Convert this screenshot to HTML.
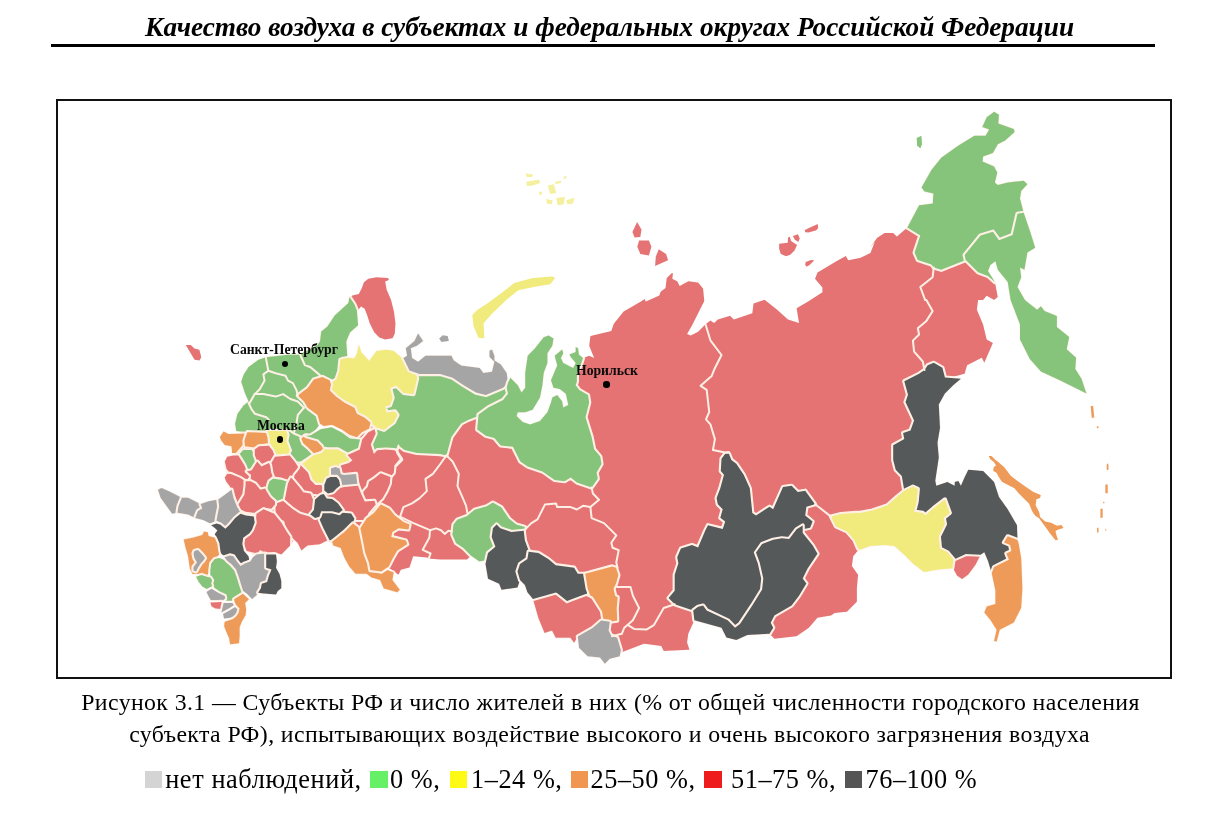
<!DOCTYPE html>
<html><head><meta charset="utf-8"><title>map</title>
<style>
html,body{margin:0;padding:0;background:#fff;overflow:hidden;}
body{width:1219px;height:817px;position:relative;overflow:hidden;font-family:"Liberation Serif",serif;color:#000;}
.title{position:absolute;left:0;top:11.6px;width:1219px;text-align:center;font-size:27.25px;font-weight:bold;font-style:italic;white-space:nowrap;letter-spacing:0px;}
.rule{position:absolute;left:51.2px;top:44.3px;width:1104px;height:2.8px;background:#000;}
.frame{position:absolute;left:55.5px;top:99px;width:1116px;height:579.8px;border:2.1px solid #111;box-sizing:border-box;}
.cap{position:absolute;left:0;width:1219px;text-align:center;font-size:23.8px;letter-spacing:0.40px;white-space:nowrap;}
.leg{position:absolute;top:765.2px;left:0;height:30px;font-size:26.3px;letter-spacing:0.55px;white-space:nowrap;}
.leg span{position:absolute;top:0;}
.leg i{position:absolute;display:block;width:17.7px;height:17.6px;top:5.6px;filter:blur(0.4px);}
.lbl{position:absolute;font-weight:bold;font-size:13.7px;white-space:nowrap;color:#0a0a0a;}
.dot{position:absolute;width:6.6px;height:6.6px;border-radius:50%;background:#000;}
svg{position:absolute;left:0;top:0;filter:blur(0.45px);}
.title,.cap,.leg,.lbl{will-change:transform;filter:blur(0.3px);}
</style></head><body>
<div class="title">Качество воздуха в субъектах и федеральных округах Российской Федерации</div>
<div class="rule"></div>
<div class="frame"></div>
<svg width="1219" height="817" viewBox="0 0 1219 817">
<defs><mask id="land" maskUnits="userSpaceOnUse" x="0" y="0" width="1219" height="817"><rect x="0" y="0" width="1219" height="817" fill="#000"/><path d="M576.9 377.8 L576.9 372.9 L580.6 365.5 L583 358.1 L589.2 355.7 L594.1 358.1 L589.2 345.8 L590.4 336 L611.3 331.1 L613.8 323.7 L623.6 311.4 L640.9 301.5 L644.6 299.1 L645.8 301.5 L659.3 295.4 L660.6 291.7 L665.5 288 L666.7 278.1 L671.6 273.2 L673 273.3 L672.3 278.8 L677.2 281.2 L679.7 286.1 L688.3 281.2 L698.1 282.4 L703.1 288.6 L704.3 300.9 L696.9 315.7 L692 325.5 L687.1 334.1 L690.7 335.4 L698.1 331.7 L705.5 324.3 L710.4 320.6 L714.1 323.1 L717.8 319.4 L730.1 315.7 L733.8 319.4 L752.3 313.2 L753.5 303.4 L764.6 299.7 L776.9 309.5 L788 319.4 L799 323.1 L796.6 308.3 L808.9 300.9 L822.4 292.3 L822.4 287.4 L815 278.8 L817.5 272.6 L835.9 261.5 L845.8 256.1 L848.3 260.3 L860.6 257.8 L870.4 252.9 L875.3 240.6 L880 235.7 L869.8 247.7 L877.2 237.8 L884.6 232.9 L893.2 232.9 L896.9 236.6 L907.3 227.5 L920.3 235.4 L914.6 252.6 L917.8 260 L931.4 264.4 L933.8 267.4 L941.2 269.8 L965.8 260 L978.1 272.3 L988 276 L994.9 282.1 L997.8 296.9 L994.1 300.1 L986.7 295.7 L983.1 300.1 L978.1 300 L976.9 309.8 L983.1 324.6 L986.7 339.4 L992.9 343.1 L984.3 362.8 L981.8 357.8 L967.1 365.2 L964.6 373.8 L946.1 378.8 L928.9 398.4 L921.5 447.7 L916.6 496.9 L896.9 521.5 L864.9 533.8 L859.3 548.9 L853.2 556.3 L851.9 566.1 L858.1 574.7 L856.9 588.3 L856.9 601.8 L847 611.7 L834.7 612.9 L831 615.4 L817.5 617.8 L808.9 627.7 L796.6 636.3 L774.4 638.7 L769.5 633.8 L752.3 620.3 L708 615.4 L693.2 610.4 L694.4 620.3 L688.3 633.8 L687.1 642.4 L689.5 649.8 L663.7 651 L661.2 646.1 L644 643.7 L621.8 652.3 L609.5 647.4 L592.6 637.8 L577.8 636.6 L574.1 642.7 L570.4 637.8 L555.7 637.8 L552 630.4 L544.6 632.9 L538.4 618.1 L533.5 600.9 L550.7 586.1 L508.9 561.5 L476.9 536.9 L470.8 556.1 L467.1 559.6 L440 559.6 L430.5 558.7 L426.8 557.5 L413.2 556.3 L409.5 567.4 L400.9 569.8 L398.5 574.7 L394.8 572.3 L371.5 555.4 L346.9 543.1 L333.3 543.1 L327.2 540.6 L319.8 544.3 L307.5 545.5 L301.4 550.4 L297.7 543.1 L294 539.4 L290 545.5 L281.4 554.4 L274.3 551.9 L270.6 557.8 L258.3 557.8 L243.5 548 L231.2 530.7 L231.2 518.4 L232.4 491.4 L227.5 484 L224.6 477.1 L226.8 472.9 L225.1 466.8 L225.1 460.6 L230 455.7 L234.9 456.9 L237.4 449.5 L243.5 429.8 L273.1 424.9 L307.5 429.8 L322.3 434.8 L359.2 429.8 L364.1 422.5 L378.9 422.5 L396.1 432.3 L450 432.3 L404.6 436.9 L429.2 424.6 L478.4 407.4 L503.1 424.6 L552.3 449.2 L594.1 461.5 L582.5 429.2Z M953.5 559.7 L965.8 554 L980.6 554.7 L975.7 564.6 L968.3 574.4 L962.1 578.9 L957.2 575.7 L953 568.3Z M637.1 222.1 L641.5 229.5 L640.3 236.9 L634.6 237.4 L632.4 232Z M639.1 240.6 L648.9 240.6 L651.4 246.8 L648.9 255.4 L640.3 254.1 L637.3 246.8Z M658.8 249.2 L666.1 254.1 L668.1 260.3 L655.1 266 L655.8 256.6Z M804.8 230 L810 227.4 L817.7 224 L818.2 228.3 L816 230.5 L808.3 232.6 L805.2 232.2Z M792.8 236 L798 234.3 L799.7 238.6 L798.3 242 L794.9 239.8Z M779.1 243.7 L787.7 242.8 L788 237.4 L789.7 236.8 L791.1 241.1 L797.1 244.9 L794.5 250.6 L790.3 254.8 L786 256.2 L780.8 254 L779.1 248.8Z M805.7 262 L810.8 260 L814.3 260.3 L810 264.8 L806.5 266.8 L805.2 264.8Z M994.1 111.8 L999 114.8 L998.3 123.4 L1013.8 129 L1014.6 132 L1005.2 140.6 L997.8 144.3 L992.9 152.9 L983.1 156.6 L982.6 161.5 L994.1 166.4 L997.3 172.6 L994.9 182.4 L997.8 184.9 L1007.7 182.4 L1023.7 180.7 L1027.4 184.2 L1021.2 191.1 L1020 198.4 L1023.7 212.7 L1017.5 213.7 L1012.6 234.9 L999 240.3 L992.9 231.7 L980.6 235.4 L964.6 255 L965.8 260 L941.2 269.8 L933.8 267.4 L931.4 264.4 L917.8 260 L914.6 252.6 L920.3 235.4 L907.3 227.5 L919.1 205.3 L932.8 203.4 L933.3 193.5 L924.5 191.6 L921.5 187.4 L931.4 170.1 L941.2 157.8 L958.4 145.5 L974.4 135.7 L985.5 135.7 L989.2 129.5 L982.3 127.1 L986.7 117.2Z M916.6 138.1 L921.5 135.7 L922 144.3 L920.3 148.5 L917.1 145.5Z M965.8 260 L964.6 255 L980.6 235.4 L992.9 231.7 L999 240.3 L1012.6 234.9 L1017.5 213.7 L1023.7 212.7 L1029.8 230.4 L1035.2 247.7 L1027.4 252.6 L1024.4 269.8 L1020 267.4 L1021.2 277.2 L1017.5 287 L1024.9 300.1 L1037.2 309.8 L1040.9 306.2 L1044.6 311.1 L1056.9 316 L1056.9 327.1 L1069.2 336.9 L1066.7 349.2 L1076.1 357.8 L1075.3 368.9 L1081.5 378.8 L1086.4 393.5 L1061.8 381.2 L1040.9 371.4 L1029.8 359.1 L1020 339.4 L1020 324.6 L1010.6 300 L1007.7 282.1 L997.8 269.8 L995.4 261.2 L990.4 264.9 L988 271 L994.9 282.1 L988 276 L978.1 272.3Z M924.5 370.1 L927.7 365.2 L933.8 362.8 L942.4 367.7 L944.9 377.5 L960.9 378.8 L953.5 384.9 L944.9 393.5 L938.8 404.6 L940 428 L937.5 442.7 L938.8 457.5 L935.1 482.1 L935.1 479.7 L936.3 485.8 L947.4 482.1 L954.7 485.8 L954.7 482.1 L958.4 480.9 L960.9 485.8 L964.6 477.2 L968.3 469.8 L983.1 471.1 L994.1 482.1 L999 496.9 L1007.7 509.2 L1017 525.2 L1017.5 540 L1007.7 536.3 L1004 542.4 L1010.1 544.9 L1011.4 551.1 L1006.4 553.5 L1008.9 559.7 L994.1 567.1 L991.7 573.2 L988 560.9 L984.3 552.3 L980.6 554.7 L965.8 554 L953.5 559.7 L947.4 552.3 L940 548.6 L938.8 536.3 L944.9 524 L943.7 517.8 L949.8 512.9 L944.9 499.4 L933.8 508 L925.2 515.4 L922.8 512.9 L914.1 511.7 L916.6 501.8 L917.8 489 L912.9 486.6 L904.3 490.8 L901.8 476 L895.7 469.8 L893.2 460 L893.2 445.2 L904.3 439 L903.1 432.9 L910.5 430.4 L914.1 420.6 L905.5 402.1 L908 394.7 L904.3 381.2 L919.1 373.8Z M860 512.9 L872.3 510.5 L887.1 505.5 L896.9 496.9 L904.3 490.8 L912.9 486.6 L917.8 489 L916.6 501.8 L914.1 511.7 L922.8 512.9 L925.2 515.4 L933.8 508 L944.9 499.4 L949.8 512.9 L943.7 517.8 L944.9 524 L938.8 536.3 L940 548.6 L947.4 552.3 L953.5 559.7 L952.3 568.3 L938.8 569.5 L924 572 L912.9 563.4 L904.3 554.7 L894.5 546.1 L884.6 544.9 L869.8 546.1 L860 549.8 L859.3 548.9 L858.1 548.6 L854.4 540 L847 531.4 L835.9 526.4 L831 516.6 L840.9 514.1 L855.6 512.9Z M1017.5 540 L1007.7 536.3 L1004 542.4 L1010.1 544.9 L1011.4 551.1 L1006.4 553.5 L1008.9 559.7 L994.1 567.1 L991.7 573.2 L995.4 590.4 L995.4 604 L986.7 606.4 L984.3 612.6 L990.4 620 L996.6 629.8 L994.1 640.9 L996.6 641.6 L999.8 629.8 L1013.8 622.4 L1021.2 607.7 L1022.4 588 L1021.2 558.4 L1018.7 543.7Z M988.7 456 L991.6 456 L995.3 459.7 L998.9 462.6 L1004.1 467 L1007 470.7 L1010.7 475.8 L1016.6 480.2 L1024.6 486.1 L1033.5 492 L1040.8 494.9 L1040.1 497.9 L1036.4 499.3 L1035.7 505.2 L1039.3 512.6 L1040.1 517 L1045.2 521.4 L1051.1 522.8 L1057 525.8 L1061.4 525.1 L1063.6 528 L1058.4 529.5 L1055.5 530.9 L1056.7 536.1 L1058 539.6 L1055.8 540.5 L1053.3 537.5 L1050.4 533.9 L1046.7 528.7 L1042.3 522.8 L1039.3 518.4 L1034.9 515.5 L1032 511.1 L1029.1 503.7 L1024.6 499.3 L1018.8 493.5 L1014.4 488.3 L1007 484.6 L1001.9 481.7 L998.9 477.3 L996.7 472.9 L993.1 470.7 L993.8 467 L996 465.5 L993.8 461.9 L990.1 458.9Z M1090.6 406.3 L1093.1 405.8 L1094.3 417.6 L1091.8 418.1Z M1096.8 426.3 L1098.5 426.3 L1098.5 428.2 L1096.8 428.2Z M1106.8 463.7 L1108.3 463.7 L1108.3 469.8 L1106.8 469.8Z M1105.6 484.6 L1107.3 484.6 L1107.3 493.2 L1105.6 493.2Z M1106.8 464.9 L1108.3 464.9 L1108.3 469.8 L1106.8 469.8Z M1105.6 484.6 L1107.6 484.6 L1107.6 493.2 L1105.6 493.2Z M1103.2 501.8 L1104.4 501.8 L1104.4 503.3 L1103.2 503.3Z M1100.4 508.7 L1102.7 508.7 L1102.7 517.8 L1100.4 517.8Z M1097 527.7 L1098.5 527.7 L1098.5 532.6 L1097 532.6Z M1105.1 529.2 L1106.3 529.2 L1106.3 530.6 L1105.1 530.6Z M725.2 453.8 L728.9 453.8 L731.4 460 L736.3 463.7 L743.7 474.7 L749.8 488.3 L752.3 512.9 L756 515.4 L769.5 506.7 L773.2 509.2 L783 487.1 L791.6 485.8 L797.8 492 L805.2 490.7 L815 504.3 L806.4 506.7 L805.2 515.4 L812.6 521.5 L810.1 527.7 L804 528.9 L802.7 525.2 L797.8 527.7 L789.2 538.7 L781.8 537.5 L773.2 538.7 L762.1 543.7 L756 551 L760.9 563.3 L763.3 578.4 L762.1 589.5 L752.3 605.5 L740 624 L735 627.7 L727.7 620.3 L706.7 610.4 L703.1 605.5 L698.1 606.7 L693.2 610.4 L674.7 604.3 L668.6 598.1 L674.7 590.7 L674.7 574.7 L678.4 563.3 L677.2 557.2 L680.9 548.6 L692 544.9 L698.1 547.4 L705.5 530.1 L708 525.2 L722.7 528.9 L725.2 521.5 L720.3 517.8 L722.7 509.2 L717.8 504.3 L716.6 498.1 L720.3 488.3 L724 474.7 L720.8 471.1 L721.5 458.8Z M693.2 610.4 L698.1 606.7 L703.1 605.5 L706.7 610.4 L727.7 620.3 L735 627.7 L740 624 L752.3 605.5 L762.1 589.5 L763.3 578.4 L759.7 562.4 L756 552.6 L762.1 544 L773.2 539.8 L781.8 538.3 L789.2 539.1 L796.6 529.2 L802.7 525.5 L802.7 532.9 L812.6 545.2 L817.5 553.8 L807.6 568.6 L802.7 578.4 L806.4 583.4 L799 595.7 L791.6 605.5 L774.4 615.4 L770.7 622.7 L773.2 627.7 L769.5 633.8 L747.4 635 L736.3 640 L726.4 637.5 L721.5 627.7 L694.4 620.3Z M349.2 297.8 L352.2 295.5 L358.8 294.1 L361.7 288.2 L363.9 282.3 L368.3 278.7 L376.4 277.2 L388.2 277.9 L388.9 280.1 L385.2 281.6 L386.7 289.7 L391.1 300 L394 311.7 L395.5 323.5 L394.8 333.7 L392.6 338.2 L385.2 339.6 L379.3 337.4 L374.2 332.3 L369.8 323.5 L366.9 314.6 L364.6 308.8 L361 306.6 L358 310.2 L355.1 310.2 L354.4 305.8 L350.7 302.2Z M185.8 344.9 L190.8 344.9 L194.5 348.6 L199.4 349.8 L201.3 357.2 L199.4 360.4 L194.5 359.7 L190.8 353.5Z M472.3 315.1 L477.2 310.1 L488.3 302.8 L503.1 291.7 L514.1 283.1 L532.6 278.1 L552.3 276.4 L555.2 278.1 L550.3 284.3 L535 286.8 L518.3 290.2 L506.3 300 L492.2 313.6 L483.6 323.2 L484.3 338.4 L478.4 337.7 L473.5 326.1Z M525.5 173.2 L532.9 174.5 L532.2 176.9 L526.8 176.9Z M526.3 181.8 L539.1 179.4 L540.3 183.1 L532.9 185.5 L526.8 186.3Z M547.7 185.5 L553.8 184.3 L556.3 192.9 L550.1 194.1Z M555.1 181.8 L561.2 180.6 L560.7 183.1 L555.8 184.3Z M563.7 176.4 L566.6 175.9 L566.1 178.4 L563.7 178.9Z M546 199.1 L552.6 200.3 L551.9 204.5 L546.9 203.5Z M556.3 197.8 L564.9 197.1 L563.7 204.5 L557.5 205.2Z M566.1 200.3 L574.7 197.8 L573 203.5 L567.4 204.5Z M539.1 191.7 L542 191.7 L542 194.6 L539.1 194.6Z M417.2 378.1 L415.9 374.4 L419.4 374.1 L440.3 374.1 L452.6 377.8 L463.7 385.2 L476 392.6 L485.8 395 L503.1 387.7 L508 382.7 L506.7 387.7 L508 393.8 L503.1 400 L488.3 407.4 L478.4 414.7 L478.4 416 L468.6 419.7 L461.2 423.4 L451.4 436.9 L446.4 455.4 L440.3 454.1 L416.9 452.9 L404.6 450 L398.5 445.5 L394.8 450 L380 451.7 L372.1 454.4 L370.4 447 L372.1 437.2 L374.1 428.6 L384 429.8 L393.8 422.4 L397.5 415 L395 411.4 L386.4 412.6 L385.2 406.4 L390.1 405.2 L392.6 397.8 L390.1 388 L396.3 385.5 L403.6 392.9 L413.5 394.1Z M342.1 357.2 L354.4 358.4 L356.9 353.5 L358.9 344.9 L361.3 352.3 L369.2 360.9 L376.6 351.1 L386.4 349.8 L393.8 351.1 L402.4 358.4 L406.1 365.8 L415.9 374.4 L417.2 378.1 L413.5 394.1 L403.6 392.9 L396.3 385.5 L390.1 388 L392.6 397.8 L390.1 405.2 L385.2 406.4 L386.4 412.6 L395 411.4 L397.5 415 L393.8 422.4 L384 429.8 L376.6 427.4 L370.4 422.4 L364.3 417.5 L356.9 413.8 L354.4 407.7 L344.6 402.7 L336 396.6 L329.8 390.4 L331 384.3 L334.7 378.1 L337.2 370.7 L338.4 358.4Z M403.4 358.1 L407.1 355.7 L405.8 348.3 L414.5 340.9 L418.1 333.5 L423.1 340.9 L416.9 345.8 L410.8 348.3 L412 358.1 L418.1 361.8 L425.5 355.7 L451.4 355.7 L453.8 360.6 L461.2 365.5 L479.7 368 L483.4 372.9 L492 371.7 L494.4 361.8 L489.5 356.9 L489.5 350.7 L492 349.5 L494.4 355.7 L494.4 360.6 L500.6 364.3 L506.7 372.9 L508 382.7 L503.1 387.7 L485.8 395 L476 392.6 L463.7 385.2 L452.6 377.8 L440.3 374.1 L419.4 374.1 L409.5 370.4Z M439.1 338.4 L442.8 335.2 L447.7 336 L448.9 340.9 L441.5 342.1Z M508 382.7 L510.4 377.8 L517.8 385.2 L521.5 392.6 L525.2 387.7 L525.2 372.9 L527.7 355.7 L535 348.3 L543.7 337.2 L548.6 335.5 L553.5 338.4 L552.3 345.8 L547.4 353.2 L547.4 363.1 L543.7 372.9 L542.4 385.2 L540 397.5 L532.6 409.8 L525.2 412.3 L517.8 412.3 L516.6 416 L522.7 422.1 L530.1 424.6 L540 420.9 L547.4 412.3 L551 402.4 L552.3 397.5 L557.2 395 L562.1 401.2 L563.3 407.4 L568.3 404.9 L565.8 393.8 L559.7 388.9 L553.5 387.7 L551 380.3 L557.2 365.5 L554.7 355.7 L562.1 349.5 L563.3 353.2 L560.9 358.1 L563.3 363.1 L573.2 368 L575.7 363.1 L570.7 356.9 L569.5 354.4 L575.7 352 L575.7 347.1 L578.1 348.3 L578.9 354.4 L583 358.1 L580.6 365.5 L576.9 372.9 L576.9 381.5 L575.7 385.2 L579.3 390.1 L588 395 L589.2 402.4 L585.5 417.2 L589.2 429.5 L585.5 417.2 L591.6 436.9 L594.1 449.2 L600.3 456.6 L601.5 464 L596.6 472.6 L597.8 478.8 L591.6 487.4 L576.9 482.4 L570.7 477.5 L564.6 481.2 L554.7 480 L542.4 471.4 L527.7 466.4 L520.3 461.5 L512.9 446.8 L500.6 445.5 L494.4 438.1 L485.8 435.7 L477.2 429.5 L478.4 416 L478.4 414.7 L488.3 407.4 L503.1 400 L508 393.8 L506.7 387.7Z M453.5 524.6 L457.2 519.7 L467.1 516 L474.5 509.8 L486.8 506.2 L492.9 502.5 L501.5 507.4 L508.9 518.5 L516.3 524.6 L524.9 527.1 L523.7 530.8 L511.4 532 L500.3 528.3 L496.6 524.6 L492.9 528.3 L491.7 536.9 L495.4 546.8 L488 552.9 L485.5 560.3 L479.4 561.5 L470.8 555.4 L463.4 548 L456 543.1 L452.3 534.5Z M492.9 528.3 L496.6 524.6 L500.3 528.3 L511.4 532 L523.7 530.8 L524.9 540.6 L528.6 550.5 L527.4 559.1 L520 564 L517.5 571.4 L520 580 L517.5 587.4 L501.5 589.8 L499.1 583.7 L488 578.8 L485.5 564 L488 552.9 L495.4 546.8 L491.7 536.9Z M528.6 551.7 L538.4 552.9 L548.3 559.1 L555.7 565.2 L574.1 567.7 L577.8 573.8 L585.2 573.8 L587.7 588.6 L586.4 596 L572.9 600.9 L566.7 602.1 L555.7 594.7 L533.5 599.7 L527.4 592.3 L524.9 584.9 L520 580 L517.5 571.4 L520 564 L527.4 559.1Z M585.2 573.8 L612.3 566.4 L616 567.7 L618.4 575.1 L616 583.7 L613.5 588.6 L615.2 596 L617.7 597.2 L616.7 608.3 L617.2 620.6 L609.8 621.8 L601.2 619.4 L600 612 L591.4 598.4 L587.7 588.6Z M533.5 600.9 L555.7 594.7 L566.7 603.4 L572.9 600.9 L586.4 596 L591.4 598.4 L600 612 L601.2 619.4 L592.6 628 L577.8 636.6 L574.1 642.7 L570.4 637.8 L555.7 637.8 L552 630.4 L544.6 632.9 L538.4 618.1Z M577.8 636.6 L592.6 628 L601.2 620.6 L609.8 621.8 L608.6 630.4 L611 635.4 L617.2 637.8 L620.9 650.1 L619.7 656.3 L609.8 658.7 L604.9 663.7 L600 657.5 L587.7 656.3 L579 647.7Z M349.5 296.9 L354.4 304.3 L356.9 310.5 L358.1 325.2 L350 332.6 L346.3 341.2 L347 352.3 L347.3 356 L341.6 357 L338.4 358.4 L337.2 370.7 L334.7 378.1 L332.3 379.4 L321.2 378.1 L317.5 374.4 L310.1 368.3 L304 365.8 L299 354.7 L317.5 344.9 L320 341.2 L321.2 331.4 L327.4 326.4 L334.7 315.4 L348.3 303.1Z M265.8 357.2 L288 354.7 L299 354.7 L304 365.8 L310.1 368.3 L317.5 374.4 L321.2 378.1 L313.8 379.4 L307.7 388 L297.8 395.4 L304 401.5 L307.7 407.7 L317.5 415 L320 423.7 L317.5 427.4 L310.1 436 L300.3 437.2 L297.8 436 L294.1 432.3 L292.9 434.7 L278.1 432.3 L268.3 433.5 L249.8 432.3 L246.1 436 L243.7 432.3 L236.3 431 L235.1 423.7 L237.5 413.8 L243.7 405.2 L248.6 401.5 L244.9 392.9 L241.2 381.8 L243.7 374.4 L248.6 367.1 L258.4 359.7Z M297.8 395.4 L307.7 388 L313.8 379.4 L322.4 376.9 L329.8 380.6 L331 384.3 L329.8 390.4 L336 396.6 L344.6 402.7 L354.4 407.7 L356.9 413.8 L364.3 417.5 L370.4 422.4 L369.2 428.6 L361.8 432.3 L356.9 437.2 L349.5 434.7 L342.1 429.8 L332.3 424.9 L323.7 426.1 L320 423.7 L317.5 415 L307.7 407.7 L304 401.5Z M275.5 503.7 L282.9 500 L290.3 504.9 L297.7 511.1 L310 514.7 L319.8 519.7 L323.5 528.3 L327.2 540.6 L319.8 544.3 L307.5 545.5 L301.4 550.4 L297.7 543.1 L294 539.4 L286.6 530.7 L284.1 520.9 L278 518.4 L275.5 511.1Z M219.9 437.1 L223.6 431.6 L228.5 434.1 L244.4 433.5 L245.6 437.1 L242.6 445.1 L235.8 453.1 L232.1 453.1 L231.5 446.3 L224.8 445.1 L221.1 440.2Z M247.4 432.2 L266.4 432.9 L269.5 437.1 L268.9 443.3 L259.1 444.5 L254.2 447.6 L245 446.3 L244.4 440.8 L245.6 437.1Z M267.7 431 L288.5 431 L289.7 434.7 L288.5 440.8 L292.1 450.6 L289.7 455.5 L275 456.7 L273.2 450.6 L270.1 443.3 L269.5 437.1Z M288.5 431 L293.4 434.4 L299.5 436.9 L301.3 438.4 L303.2 443.3 L308.1 447.6 L314.2 453.7 L311.7 454.3 L300.7 461.6 L294.6 461.6 L289.7 455.5 L292.1 450.6 L288.5 440.8 L289.7 434.7Z M301.3 438.4 L305.6 435.3 L316.6 438.4 L321.5 443.3 L325.2 449.4 L314.2 453.7 L308.1 447.6 L303.2 443.3Z M305.9 435.9 L310.8 435.3 L320.6 429.2 L331.6 427.3 L341.4 432.2 L350 438.4 L359.8 439.6 L362.2 439.6 L359.8 449.4 L347.6 454.9 L337.8 449.4 L326.7 449.4 L325.5 448.8 L323.1 444.5 L318.2 439.6Z M300.4 465.3 L313.3 455.5 L321.8 453.1 L325.5 448.8 L326.7 449.4 L337.8 449.4 L347.6 454.9 L352.4 460.4 L348.8 462.9 L341.4 465.3 L331.6 467.8 L330.4 473.9 L326.7 478.8 L323.1 484.3 L312 485.5 L309.6 478.8 L307.1 471.4Z M238.3 455.5 L243.2 450 L251.7 450 L254.8 454.9 L257.2 461.6 L251.7 470.2 L246.8 471.4 L244.4 465.3 L240.7 459.2Z M267.7 480 L272.6 476.3 L281.1 477.6 L287.2 479.4 L287.9 483.7 L286 493.5 L283.6 498.4 L275 501.4 L270.1 497.1 L266.4 491 L266.4 483.7Z M254.8 449.4 L259.1 446.3 L268.9 445.7 L272.6 450.6 L275 456.7 L270.1 465.3 L268.9 462.9 L261.5 466.5 L257.2 461.6 L254.8 454.9Z M270.1 465.3 L275 456.7 L289.7 455.5 L294.6 461.6 L299.5 469 L294.6 475.1 L290.9 477.6 L287.2 479.4 L281.1 477.6 L272.6 476.3 L271.3 472.7Z M224.8 461.6 L227.2 456.7 L233.4 455.5 L238.3 455.5 L240.7 459.2 L244.4 465.3 L246.8 471.4 L251.1 475.1 L245.6 481.2 L239.5 477.6 L230.9 473.9 L226.6 469Z M224.8 477.6 L227.2 473.9 L230.9 473.9 L239.5 477.6 L245.6 481.2 L245.6 484.9 L244.4 494.7 L238.3 504.5 L234.6 494.7 L229.7 486.1 L226 481.2Z M251.1 475.1 L246.8 471.4 L251.7 470.2 L257.2 461.6 L261.5 466.5 L268.9 462.9 L270.1 465.3 L271.3 472.7 L272.6 476.3 L267.7 480 L266.4 483.7 L265.2 488.6 L260.3 489.8 L255.4 483.7 L250.5 481.2Z M238.3 504.5 L244.4 494.7 L245.6 484.9 L245.6 481.2 L250.5 481.2 L255.4 483.7 L260.3 489.8 L265.2 488.6 L266.4 491 L270.1 497.1 L275 501.4 L275 504.5 L271.3 508.8 L262.8 507.6 L255.4 513.1 L245.6 511.8 L240.7 509.4Z M293.4 480 L294.6 475.1 L299.5 469 L300.7 465.3 L308.1 472.7 L310.5 480 L315.4 484.9 L321.5 484.9 L322.8 489.8 L320.3 494.7 L310.5 493.5 L303.2 492.2 L299.5 487.3Z M287.9 483.7 L290.9 477.6 L293.4 480 L299.5 487.3 L303.2 492.2 L310.5 493.5 L313 499.6 L314.8 507.6 L309.3 514.3 L300.7 511.8 L293.4 506.9 L284.8 499.6 L286 493.5Z M368.4 432.2 L374.5 429.2 L375.7 433.5 L370.8 444.5 L373.9 453.9 L377.3 450.2 L385.9 449.6 L394.4 450.2 L395.9 451.5 L401.2 459.4 L394.4 466.2 L393.8 472.7 L390.4 476.9 L380.6 473.3 L374.5 478.2 L369 481.8 L367.8 486.7 L361 493.5 L358.6 483.7 L357.3 473.9 L343.9 475.1 L340.8 473.9 L339.6 468.4 L341.4 465.3 L348.8 462.9 L352.4 460.4 L347.6 454.9 L359.8 449.4 L362.2 439.6Z M380.6 473.3 L390.4 476.9 L389.8 483.7 L386.7 491 L382.4 498.4 L375.7 504.5 L374.5 500.8 L364.7 501.4 L362.9 495.9 L363.5 491.6 L367.8 486.7 L369 481.8 L374.5 478.2Z M332.9 492.2 L336.5 488.6 L340.2 485.5 L343.9 484.9 L357.3 483.7 L361 493.5 L364.7 501.4 L374.5 500.8 L375.7 504.5 L368.4 513.1 L365.9 520 L354.9 520 L351.2 513.7 L342.7 510 L337.8 503.3 L332.2 499 L326.7 498.4 L323.7 494.1Z M321.3 512.7 L332.1 512 L342.7 512.7 L351.1 513.5 L354.3 518.4 L353 523.4 L344.4 532 L335.8 538.1 L329.7 540.6 L323.5 528.3 L319.8 519.7Z M331 468.4 L335.3 467.1 L339.6 468.4 L340.8 473.9 L343.9 475.1 L356.1 473.9 L357.3 483.7 L343.9 484.9 L341.4 485.5 L339 480 L336.5 476.9 L331 474.5Z M326.7 478.8 L330.4 476.9 L336.5 476.9 L339 480 L340.2 485.5 L336.5 488.6 L332.9 492.2 L328 493.5 L324.3 490.4 L324.3 484.9Z M315.1 499.6 L320.6 494.7 L323.7 494.1 L326.7 498.4 L332.2 499 L337.8 503.3 L342.7 510 L339 513.1 L332.2 511.2 L321.2 511.2 L319.4 516.7 L315.1 518 L310.2 514.3 L313.9 510Z M332.1 541.8 L344.4 532 L353 523.4 L359.2 528.3 L362.9 540.6 L365.3 552.9 L369 562.7 L370.3 570.1 L381.3 573.8 L387.5 570.1 L393.6 572.6 L392.4 580 L399.8 589.8 L397.3 592.3 L388.7 589.8 L383.8 588.6 L380.1 580 L371.5 577.5 L366.6 573.8 L355.5 573.8 L349.3 566.4 L344.4 557.8 L340.7 548 L333.3 545.5Z M366.6 518.4 L374 513 L380.8 504.4 L389.2 508.6 L394.9 515.5 L403.5 522.1 L409.6 524.6 L408.4 529.5 L398.6 528.3 L392.4 532 L391.2 536.9 L405.9 540.6 L407.2 544.3 L397.3 550.4 L392.4 559 L388.7 566.4 L381.3 571.4 L370.3 570.1 L369 562.7 L365.3 552.9 L362.9 540.6 L360.4 528.3Z M158 489.8 L161.5 488 L169.5 491.5 L180.2 496.9 L181.9 497.7 L178.4 506.6 L176.6 512.8 L172.2 513.7 L166.9 506.6 L160.6 497.7Z M181.9 497.7 L188.1 497.7 L193.5 500.4 L200.6 504 L202.3 508.4 L197.9 511.1 L195.2 518.1 L188.1 514.6 L177.5 512.8 L178.4 506.6Z M200.6 504 L208.6 501.3 L218.3 499.5 L219.2 506.6 L217.4 515.5 L216.5 520.8 L210.3 523.5 L203.2 519.9 L195.2 518.1 L197.9 511.1 L202.3 508.4Z M218.3 499.5 L224.5 495.1 L231.6 489.8 L233.4 497.7 L236.9 506.6 L240.5 512.8 L235.2 517.3 L229 524.4 L225.4 527.9 L220.1 522.6 L216.5 520.8 L217.4 515.5 L219.2 506.6Z M245.8 536.8 L252 530.6 L255.6 522.6 L256.5 513.7 L263.6 509.3 L274.2 513.7 L281.3 522.6 L286.6 531.5 L290.2 536.8 L290 545.7 L281.3 554.5 L274.2 551.9 L265.3 552.8 L260 550.1 L257.4 553.6 L246.7 551 L243.2 543.9Z M211.2 525.2 L216.5 523.5 L220.1 524.4 L225.4 528.8 L229.8 524.4 L235.2 518.1 L240.5 513.7 L245.8 515.5 L253.8 516.4 L254.7 522.6 L252 529.7 L249.4 533.2 L243.2 537.7 L242.3 543.9 L244 551 L248.5 556.3 L249.4 560.7 L244 562.5 L240.5 565.2 L236.9 560.7 L233.4 555.4 L229.8 554.5 L224.5 556.3 L220.1 552.8 L218.3 546.5 L217.4 540.3 L214.8 534.1 L217.4 530.6 L214.8 527.9Z M183.7 539.4 L192.6 537.7 L202.3 535 L204.1 531.5 L207.7 532.3 L208.6 535.9 L214.8 537.7 L217.4 543.9 L218.3 551 L219.2 554.5 L214.8 559 L211.2 563.4 L210.3 570.5 L206.8 575.8 L201.5 574 L192.6 574 L189.9 568.7 L188.1 556.3 L185.5 547.4Z M194.4 551 L197.9 550.1 L202.3 554.5 L205 558.1 L203.2 560.7 L200.6 563.4 L197.9 567.8 L196.1 571.4 L193.5 570.5 L193.5 566.9 L197 562.5 L194.4 558.1 L193.5 553.6Z M211.2 563.4 L214.8 559 L219.2 558.1 L226.3 560.7 L231.6 565.2 L236.1 571.4 L238.7 579.4 L241.4 588.2 L242.3 592.7 L236.9 596.2 L231.6 600.7 L226.3 600.7 L223.6 595.3 L218.3 590.9 L213 586.5 L211.2 582 L213 579.4 L210.3 576.7 L210.3 570.5Z M196.1 576.7 L201.5 574.9 L206.8 576.7 L210.3 577.6 L212.1 580.3 L211.2 582.9 L212.1 586.5 L206.8 589.1 L202.3 586.5 L198.8 582Z M224.5 557.2 L229.8 555.4 L233.4 556.3 L236.9 561.6 L240.5 566.1 L244.9 563.4 L250.3 561.6 L252.9 557.2 L256.5 554.5 L265.3 553.6 L266.2 567.8 L270.7 569.6 L268 575.8 L267.1 581.1 L261.8 582.9 L260 590.9 L256.5 595.3 L252 598.9 L246.7 593.6 L243.2 590.9 L241.4 585.6 L238.7 576.7 L236.1 569.6 L231.6 564.3 L227.2 560.7Z M266.2 554.5 L276 554.5 L276.9 561.6 L276 567.8 L279.5 574 L281.3 581.1 L281.3 588.2 L277.8 590.9 L276 594.4 L263.6 593.6 L258.2 592.7 L260.9 588.2 L261.8 583.8 L267.1 582 L268.9 575.8 L271.5 569.6 L266.2 567.8Z M206.5 592 L211.5 588.7 L218.6 593.1 L224.7 595.9 L225.2 598.6 L223 600.3 L210.9 600.3 L208.7 596.4Z M210.4 602.5 L221.9 601.9 L222.5 605.2 L220.8 609.1 L215.3 608.5 L211.5 606.3Z M223.6 603 L232.4 603 L234.6 605.2 L228.5 609.1 L221.4 612.4 L222.5 608Z M223 614.1 L229.1 610.7 L235.2 606.9 L239 609.1 L237.4 613 L234.1 617.4 L224.1 618.5Z M234.1 599.2 L242.9 593.7 L248.9 599.2 L245.1 603 L246.2 609.6 L245.6 615.2 L241.8 621.8 L239.6 627.3 L239.6 636.1 L239 643.2 L230.2 644.3 L229.1 638.3 L226.3 631.7 L224.1 626.2 L224.7 621.8 L233 619 L236.3 616.3 L238.5 613 L239.6 608.5 L236.3 605.2 L234.6 601.9Z" fill="#fff" stroke="#fff" stroke-width="1.2" stroke-linejoin="round"/></mask></defs>
<g mask="url(#land)">
<path d="M576.9 377.8 L576.9 372.9 L580.6 365.5 L583 358.1 L589.2 355.7 L594.1 358.1 L589.2 345.8 L590.4 336 L611.3 331.1 L613.8 323.7 L623.6 311.4 L640.9 301.5 L644.6 299.1 L645.8 301.5 L659.3 295.4 L660.6 291.7 L665.5 288 L666.7 278.1 L671.6 273.2 L673 273.3 L672.3 278.8 L677.2 281.2 L679.7 286.1 L688.3 281.2 L698.1 282.4 L703.1 288.6 L704.3 300.9 L696.9 315.7 L692 325.5 L687.1 334.1 L690.7 335.4 L698.1 331.7 L705.5 324.3 L710.4 320.6 L714.1 323.1 L717.8 319.4 L730.1 315.7 L733.8 319.4 L752.3 313.2 L753.5 303.4 L764.6 299.7 L776.9 309.5 L788 319.4 L799 323.1 L796.6 308.3 L808.9 300.9 L822.4 292.3 L822.4 287.4 L815 278.8 L817.5 272.6 L835.9 261.5 L845.8 256.1 L848.3 260.3 L860.6 257.8 L870.4 252.9 L875.3 240.6 L880 235.7 L869.8 247.7 L877.2 237.8 L884.6 232.9 L893.2 232.9 L896.9 236.6 L907.3 227.5 L920.3 235.4 L914.6 252.6 L917.8 260 L931.4 264.4 L933.8 267.4 L941.2 269.8 L965.8 260 L978.1 272.3 L988 276 L994.9 282.1 L997.8 296.9 L994.1 300.1 L986.7 295.7 L983.1 300.1 L978.1 300 L976.9 309.8 L983.1 324.6 L986.7 339.4 L992.9 343.1 L984.3 362.8 L981.8 357.8 L967.1 365.2 L964.6 373.8 L946.1 378.8 L928.9 398.4 L921.5 447.7 L916.6 496.9 L896.9 521.5 L864.9 533.8 L859.3 548.9 L853.2 556.3 L851.9 566.1 L858.1 574.7 L856.9 588.3 L856.9 601.8 L847 611.7 L834.7 612.9 L831 615.4 L817.5 617.8 L808.9 627.7 L796.6 636.3 L774.4 638.7 L769.5 633.8 L752.3 620.3 L708 615.4 L693.2 610.4 L694.4 620.3 L688.3 633.8 L687.1 642.4 L689.5 649.8 L663.7 651 L661.2 646.1 L644 643.7 L621.8 652.3 L609.5 647.4 L592.6 637.8 L577.8 636.6 L574.1 642.7 L570.4 637.8 L555.7 637.8 L552 630.4 L544.6 632.9 L538.4 618.1 L533.5 600.9 L550.7 586.1 L508.9 561.5 L476.9 536.9 L470.8 556.1 L467.1 559.6 L440 559.6 L430.5 558.7 L426.8 557.5 L413.2 556.3 L409.5 567.4 L400.9 569.8 L398.5 574.7 L394.8 572.3 L371.5 555.4 L346.9 543.1 L333.3 543.1 L327.2 540.6 L319.8 544.3 L307.5 545.5 L301.4 550.4 L297.7 543.1 L294 539.4 L290 545.5 L281.4 554.4 L274.3 551.9 L270.6 557.8 L258.3 557.8 L243.5 548 L231.2 530.7 L231.2 518.4 L232.4 491.4 L227.5 484 L224.6 477.1 L226.8 472.9 L225.1 466.8 L225.1 460.6 L230 455.7 L234.9 456.9 L237.4 449.5 L243.5 429.8 L273.1 424.9 L307.5 429.8 L322.3 434.8 L359.2 429.8 L364.1 422.5 L378.9 422.5 L396.1 432.3 L450 432.3 L404.6 436.9 L429.2 424.6 L478.4 407.4 L503.1 424.6 L552.3 449.2 L594.1 461.5 L582.5 429.2Z" fill="#E57373"/>
<path d="M953.5 559.7 L965.8 554 L980.6 554.7 L975.7 564.6 L968.3 574.4 L962.1 578.9 L957.2 575.7 L953 568.3Z" fill="#E57373" stroke="#FFF0E6" stroke-width="4.2" stroke-linejoin="round" paint-order="stroke"/>
<path d="M637.1 222.1 L641.5 229.5 L640.3 236.9 L634.6 237.4 L632.4 232Z" fill="#E57373"/>
<path d="M639.1 240.6 L648.9 240.6 L651.4 246.8 L648.9 255.4 L640.3 254.1 L637.3 246.8Z" fill="#E57373"/>
<path d="M658.8 249.2 L666.1 254.1 L668.1 260.3 L655.1 266 L655.8 256.6Z" fill="#E57373"/>
<path d="M804.8 230 L810 227.4 L817.7 224 L818.2 228.3 L816 230.5 L808.3 232.6 L805.2 232.2Z" fill="#E57373"/>
<path d="M792.8 236 L798 234.3 L799.7 238.6 L798.3 242 L794.9 239.8Z" fill="#E57373"/>
<path d="M779.1 243.7 L787.7 242.8 L788 237.4 L789.7 236.8 L791.1 241.1 L797.1 244.9 L794.5 250.6 L790.3 254.8 L786 256.2 L780.8 254 L779.1 248.8Z" fill="#E57373"/>
<path d="M805.7 262 L810.8 260 L814.3 260.3 L810 264.8 L806.5 266.8 L805.2 264.8Z" fill="#E57373"/>
<path d="M994.1 111.8 L999 114.8 L998.3 123.4 L1013.8 129 L1014.6 132 L1005.2 140.6 L997.8 144.3 L992.9 152.9 L983.1 156.6 L982.6 161.5 L994.1 166.4 L997.3 172.6 L994.9 182.4 L997.8 184.9 L1007.7 182.4 L1023.7 180.7 L1027.4 184.2 L1021.2 191.1 L1020 198.4 L1023.7 212.7 L1017.5 213.7 L1012.6 234.9 L999 240.3 L992.9 231.7 L980.6 235.4 L964.6 255 L965.8 260 L941.2 269.8 L933.8 267.4 L931.4 264.4 L917.8 260 L914.6 252.6 L920.3 235.4 L907.3 227.5 L919.1 205.3 L932.8 203.4 L933.3 193.5 L924.5 191.6 L921.5 187.4 L931.4 170.1 L941.2 157.8 L958.4 145.5 L974.4 135.7 L985.5 135.7 L989.2 129.5 L982.3 127.1 L986.7 117.2Z" fill="#85C47A" stroke="#FFF0E6" stroke-width="4.2" stroke-linejoin="round" paint-order="stroke"/>
<path d="M916.6 138.1 L921.5 135.7 L922 144.3 L920.3 148.5 L917.1 145.5Z" fill="#85C47A"/>
<path d="M965.8 260 L964.6 255 L980.6 235.4 L992.9 231.7 L999 240.3 L1012.6 234.9 L1017.5 213.7 L1023.7 212.7 L1029.8 230.4 L1035.2 247.7 L1027.4 252.6 L1024.4 269.8 L1020 267.4 L1021.2 277.2 L1017.5 287 L1024.9 300.1 L1037.2 309.8 L1040.9 306.2 L1044.6 311.1 L1056.9 316 L1056.9 327.1 L1069.2 336.9 L1066.7 349.2 L1076.1 357.8 L1075.3 368.9 L1081.5 378.8 L1086.4 393.5 L1061.8 381.2 L1040.9 371.4 L1029.8 359.1 L1020 339.4 L1020 324.6 L1010.6 300 L1007.7 282.1 L997.8 269.8 L995.4 261.2 L990.4 264.9 L988 271 L994.9 282.1 L988 276 L978.1 272.3Z" fill="#85C47A" stroke="#FFF0E6" stroke-width="4.2" stroke-linejoin="round" paint-order="stroke"/>
<path d="M924.5 370.1 L927.7 365.2 L933.8 362.8 L942.4 367.7 L944.9 377.5 L960.9 378.8 L953.5 384.9 L944.9 393.5 L938.8 404.6 L940 428 L937.5 442.7 L938.8 457.5 L935.1 482.1 L935.1 479.7 L936.3 485.8 L947.4 482.1 L954.7 485.8 L954.7 482.1 L958.4 480.9 L960.9 485.8 L964.6 477.2 L968.3 469.8 L983.1 471.1 L994.1 482.1 L999 496.9 L1007.7 509.2 L1017 525.2 L1017.5 540 L1007.7 536.3 L1004 542.4 L1010.1 544.9 L1011.4 551.1 L1006.4 553.5 L1008.9 559.7 L994.1 567.1 L991.7 573.2 L988 560.9 L984.3 552.3 L980.6 554.7 L965.8 554 L953.5 559.7 L947.4 552.3 L940 548.6 L938.8 536.3 L944.9 524 L943.7 517.8 L949.8 512.9 L944.9 499.4 L933.8 508 L925.2 515.4 L922.8 512.9 L914.1 511.7 L916.6 501.8 L917.8 489 L912.9 486.6 L904.3 490.8 L901.8 476 L895.7 469.8 L893.2 460 L893.2 445.2 L904.3 439 L903.1 432.9 L910.5 430.4 L914.1 420.6 L905.5 402.1 L908 394.7 L904.3 381.2 L919.1 373.8Z" fill="#55595A" stroke="#FFF0E6" stroke-width="4.2" stroke-linejoin="round" paint-order="stroke"/>
<path d="M860 512.9 L872.3 510.5 L887.1 505.5 L896.9 496.9 L904.3 490.8 L912.9 486.6 L917.8 489 L916.6 501.8 L914.1 511.7 L922.8 512.9 L925.2 515.4 L933.8 508 L944.9 499.4 L949.8 512.9 L943.7 517.8 L944.9 524 L938.8 536.3 L940 548.6 L947.4 552.3 L953.5 559.7 L952.3 568.3 L938.8 569.5 L924 572 L912.9 563.4 L904.3 554.7 L894.5 546.1 L884.6 544.9 L869.8 546.1 L860 549.8 L859.3 548.9 L858.1 548.6 L854.4 540 L847 531.4 L835.9 526.4 L831 516.6 L840.9 514.1 L855.6 512.9Z" fill="#F1EA7C" stroke="#FFF0E6" stroke-width="4.2" stroke-linejoin="round" paint-order="stroke"/>
<path d="M1017.5 540 L1007.7 536.3 L1004 542.4 L1010.1 544.9 L1011.4 551.1 L1006.4 553.5 L1008.9 559.7 L994.1 567.1 L991.7 573.2 L995.4 590.4 L995.4 604 L986.7 606.4 L984.3 612.6 L990.4 620 L996.6 629.8 L994.1 640.9 L996.6 641.6 L999.8 629.8 L1013.8 622.4 L1021.2 607.7 L1022.4 588 L1021.2 558.4 L1018.7 543.7Z" fill="#EE9A58" stroke="#FFF0E6" stroke-width="4.2" stroke-linejoin="round" paint-order="stroke"/>
<path d="M988.7 456 L991.6 456 L995.3 459.7 L998.9 462.6 L1004.1 467 L1007 470.7 L1010.7 475.8 L1016.6 480.2 L1024.6 486.1 L1033.5 492 L1040.8 494.9 L1040.1 497.9 L1036.4 499.3 L1035.7 505.2 L1039.3 512.6 L1040.1 517 L1045.2 521.4 L1051.1 522.8 L1057 525.8 L1061.4 525.1 L1063.6 528 L1058.4 529.5 L1055.5 530.9 L1056.7 536.1 L1058 539.6 L1055.8 540.5 L1053.3 537.5 L1050.4 533.9 L1046.7 528.7 L1042.3 522.8 L1039.3 518.4 L1034.9 515.5 L1032 511.1 L1029.1 503.7 L1024.6 499.3 L1018.8 493.5 L1014.4 488.3 L1007 484.6 L1001.9 481.7 L998.9 477.3 L996.7 472.9 L993.1 470.7 L993.8 467 L996 465.5 L993.8 461.9 L990.1 458.9Z" fill="#EE9A58"/>
<path d="M1090.6 406.3 L1093.1 405.8 L1094.3 417.6 L1091.8 418.1Z" fill="#EE9A58"/>
<path d="M1096.8 426.3 L1098.5 426.3 L1098.5 428.2 L1096.8 428.2Z" fill="#EE9A58"/>
<path d="M1106.8 463.7 L1108.3 463.7 L1108.3 469.8 L1106.8 469.8Z" fill="#EE9A58"/>
<path d="M1105.6 484.6 L1107.3 484.6 L1107.3 493.2 L1105.6 493.2Z" fill="#EE9A58"/>
<path d="M1106.8 464.9 L1108.3 464.9 L1108.3 469.8 L1106.8 469.8Z" fill="#EE9A58"/>
<path d="M1105.6 484.6 L1107.6 484.6 L1107.6 493.2 L1105.6 493.2Z" fill="#EE9A58"/>
<path d="M1103.2 501.8 L1104.4 501.8 L1104.4 503.3 L1103.2 503.3Z" fill="#EE9A58"/>
<path d="M1100.4 508.7 L1102.7 508.7 L1102.7 517.8 L1100.4 517.8Z" fill="#EE9A58"/>
<path d="M1097 527.7 L1098.5 527.7 L1098.5 532.6 L1097 532.6Z" fill="#EE9A58"/>
<path d="M1105.1 529.2 L1106.3 529.2 L1106.3 530.6 L1105.1 530.6Z" fill="#EE9A58"/>
<path d="M725.2 453.8 L728.9 453.8 L731.4 460 L736.3 463.7 L743.7 474.7 L749.8 488.3 L752.3 512.9 L756 515.4 L769.5 506.7 L773.2 509.2 L783 487.1 L791.6 485.8 L797.8 492 L805.2 490.7 L815 504.3 L806.4 506.7 L805.2 515.4 L812.6 521.5 L810.1 527.7 L804 528.9 L802.7 525.2 L797.8 527.7 L789.2 538.7 L781.8 537.5 L773.2 538.7 L762.1 543.7 L756 551 L760.9 563.3 L763.3 578.4 L762.1 589.5 L752.3 605.5 L740 624 L735 627.7 L727.7 620.3 L706.7 610.4 L703.1 605.5 L698.1 606.7 L693.2 610.4 L674.7 604.3 L668.6 598.1 L674.7 590.7 L674.7 574.7 L678.4 563.3 L677.2 557.2 L680.9 548.6 L692 544.9 L698.1 547.4 L705.5 530.1 L708 525.2 L722.7 528.9 L725.2 521.5 L720.3 517.8 L722.7 509.2 L717.8 504.3 L716.6 498.1 L720.3 488.3 L724 474.7 L720.8 471.1 L721.5 458.8Z" fill="#55595A" stroke="#FFF0E6" stroke-width="4.2" stroke-linejoin="round" paint-order="stroke"/>
<path d="M693.2 610.4 L698.1 606.7 L703.1 605.5 L706.7 610.4 L727.7 620.3 L735 627.7 L740 624 L752.3 605.5 L762.1 589.5 L763.3 578.4 L759.7 562.4 L756 552.6 L762.1 544 L773.2 539.8 L781.8 538.3 L789.2 539.1 L796.6 529.2 L802.7 525.5 L802.7 532.9 L812.6 545.2 L817.5 553.8 L807.6 568.6 L802.7 578.4 L806.4 583.4 L799 595.7 L791.6 605.5 L774.4 615.4 L770.7 622.7 L773.2 627.7 L769.5 633.8 L747.4 635 L736.3 640 L726.4 637.5 L721.5 627.7 L694.4 620.3Z" fill="#55595A" stroke="#FFF0E6" stroke-width="4.2" stroke-linejoin="round" paint-order="stroke"/>
<path d="M349.2 297.8 L352.2 295.5 L358.8 294.1 L361.7 288.2 L363.9 282.3 L368.3 278.7 L376.4 277.2 L388.2 277.9 L388.9 280.1 L385.2 281.6 L386.7 289.7 L391.1 300 L394 311.7 L395.5 323.5 L394.8 333.7 L392.6 338.2 L385.2 339.6 L379.3 337.4 L374.2 332.3 L369.8 323.5 L366.9 314.6 L364.6 308.8 L361 306.6 L358 310.2 L355.1 310.2 L354.4 305.8 L350.7 302.2Z" fill="#E57373"/>
<path d="M185.8 344.9 L190.8 344.9 L194.5 348.6 L199.4 349.8 L201.3 357.2 L199.4 360.4 L194.5 359.7 L190.8 353.5Z" fill="#E57373"/>
<path d="M472.3 315.1 L477.2 310.1 L488.3 302.8 L503.1 291.7 L514.1 283.1 L532.6 278.1 L552.3 276.4 L555.2 278.1 L550.3 284.3 L535 286.8 L518.3 290.2 L506.3 300 L492.2 313.6 L483.6 323.2 L484.3 338.4 L478.4 337.7 L473.5 326.1Z" fill="#F1EA7C"/>
<path d="M525.5 173.2 L532.9 174.5 L532.2 176.9 L526.8 176.9Z" fill="#F5F0A0"/>
<path d="M526.3 181.8 L539.1 179.4 L540.3 183.1 L532.9 185.5 L526.8 186.3Z" fill="#F5F0A0"/>
<path d="M547.7 185.5 L553.8 184.3 L556.3 192.9 L550.1 194.1Z" fill="#F5F0A0"/>
<path d="M555.1 181.8 L561.2 180.6 L560.7 183.1 L555.8 184.3Z" fill="#F5F0A0"/>
<path d="M563.7 176.4 L566.6 175.9 L566.1 178.4 L563.7 178.9Z" fill="#F5F0A0"/>
<path d="M546 199.1 L552.6 200.3 L551.9 204.5 L546.9 203.5Z" fill="#F5F0A0"/>
<path d="M556.3 197.8 L564.9 197.1 L563.7 204.5 L557.5 205.2Z" fill="#F5F0A0"/>
<path d="M566.1 200.3 L574.7 197.8 L573 203.5 L567.4 204.5Z" fill="#F5F0A0"/>
<path d="M539.1 191.7 L542 191.7 L542 194.6 L539.1 194.6Z" fill="#F5F0A0"/>
<path d="M417.2 378.1 L415.9 374.4 L419.4 374.1 L440.3 374.1 L452.6 377.8 L463.7 385.2 L476 392.6 L485.8 395 L503.1 387.7 L508 382.7 L506.7 387.7 L508 393.8 L503.1 400 L488.3 407.4 L478.4 414.7 L478.4 416 L468.6 419.7 L461.2 423.4 L451.4 436.9 L446.4 455.4 L440.3 454.1 L416.9 452.9 L404.6 450 L398.5 445.5 L394.8 450 L380 451.7 L372.1 454.4 L370.4 447 L372.1 437.2 L374.1 428.6 L384 429.8 L393.8 422.4 L397.5 415 L395 411.4 L386.4 412.6 L385.2 406.4 L390.1 405.2 L392.6 397.8 L390.1 388 L396.3 385.5 L403.6 392.9 L413.5 394.1Z" fill="#85C47A" stroke="#FFF0E6" stroke-width="4.2" stroke-linejoin="round" paint-order="stroke"/>
<path d="M342.1 357.2 L354.4 358.4 L356.9 353.5 L358.9 344.9 L361.3 352.3 L369.2 360.9 L376.6 351.1 L386.4 349.8 L393.8 351.1 L402.4 358.4 L406.1 365.8 L415.9 374.4 L417.2 378.1 L413.5 394.1 L403.6 392.9 L396.3 385.5 L390.1 388 L392.6 397.8 L390.1 405.2 L385.2 406.4 L386.4 412.6 L395 411.4 L397.5 415 L393.8 422.4 L384 429.8 L376.6 427.4 L370.4 422.4 L364.3 417.5 L356.9 413.8 L354.4 407.7 L344.6 402.7 L336 396.6 L329.8 390.4 L331 384.3 L334.7 378.1 L337.2 370.7 L338.4 358.4Z" fill="#F1EA7C" stroke="#FFF0E6" stroke-width="4.2" stroke-linejoin="round" paint-order="stroke"/>
<path d="M403.4 358.1 L407.1 355.7 L405.8 348.3 L414.5 340.9 L418.1 333.5 L423.1 340.9 L416.9 345.8 L410.8 348.3 L412 358.1 L418.1 361.8 L425.5 355.7 L451.4 355.7 L453.8 360.6 L461.2 365.5 L479.7 368 L483.4 372.9 L492 371.7 L494.4 361.8 L489.5 356.9 L489.5 350.7 L492 349.5 L494.4 355.7 L494.4 360.6 L500.6 364.3 L506.7 372.9 L508 382.7 L503.1 387.7 L485.8 395 L476 392.6 L463.7 385.2 L452.6 377.8 L440.3 374.1 L419.4 374.1 L409.5 370.4Z" fill="#A5A5A5" stroke="#FFF0E6" stroke-width="4.2" stroke-linejoin="round" paint-order="stroke"/>
<path d="M439.1 338.4 L442.8 335.2 L447.7 336 L448.9 340.9 L441.5 342.1Z" fill="#A5A5A5"/>
<path d="M508 382.7 L510.4 377.8 L517.8 385.2 L521.5 392.6 L525.2 387.7 L525.2 372.9 L527.7 355.7 L535 348.3 L543.7 337.2 L548.6 335.5 L553.5 338.4 L552.3 345.8 L547.4 353.2 L547.4 363.1 L543.7 372.9 L542.4 385.2 L540 397.5 L532.6 409.8 L525.2 412.3 L517.8 412.3 L516.6 416 L522.7 422.1 L530.1 424.6 L540 420.9 L547.4 412.3 L551 402.4 L552.3 397.5 L557.2 395 L562.1 401.2 L563.3 407.4 L568.3 404.9 L565.8 393.8 L559.7 388.9 L553.5 387.7 L551 380.3 L557.2 365.5 L554.7 355.7 L562.1 349.5 L563.3 353.2 L560.9 358.1 L563.3 363.1 L573.2 368 L575.7 363.1 L570.7 356.9 L569.5 354.4 L575.7 352 L575.7 347.1 L578.1 348.3 L578.9 354.4 L583 358.1 L580.6 365.5 L576.9 372.9 L576.9 381.5 L575.7 385.2 L579.3 390.1 L588 395 L589.2 402.4 L585.5 417.2 L589.2 429.5 L585.5 417.2 L591.6 436.9 L594.1 449.2 L600.3 456.6 L601.5 464 L596.6 472.6 L597.8 478.8 L591.6 487.4 L576.9 482.4 L570.7 477.5 L564.6 481.2 L554.7 480 L542.4 471.4 L527.7 466.4 L520.3 461.5 L512.9 446.8 L500.6 445.5 L494.4 438.1 L485.8 435.7 L477.2 429.5 L478.4 416 L478.4 414.7 L488.3 407.4 L503.1 400 L508 393.8 L506.7 387.7Z" fill="#85C47A" stroke="#FFF0E6" stroke-width="4.2" stroke-linejoin="round" paint-order="stroke"/>
<path d="M453.5 524.6 L457.2 519.7 L467.1 516 L474.5 509.8 L486.8 506.2 L492.9 502.5 L501.5 507.4 L508.9 518.5 L516.3 524.6 L524.9 527.1 L523.7 530.8 L511.4 532 L500.3 528.3 L496.6 524.6 L492.9 528.3 L491.7 536.9 L495.4 546.8 L488 552.9 L485.5 560.3 L479.4 561.5 L470.8 555.4 L463.4 548 L456 543.1 L452.3 534.5Z" fill="#85C47A" stroke="#FFF0E6" stroke-width="4.2" stroke-linejoin="round" paint-order="stroke"/>
<path d="M492.9 528.3 L496.6 524.6 L500.3 528.3 L511.4 532 L523.7 530.8 L524.9 540.6 L528.6 550.5 L527.4 559.1 L520 564 L517.5 571.4 L520 580 L517.5 587.4 L501.5 589.8 L499.1 583.7 L488 578.8 L485.5 564 L488 552.9 L495.4 546.8 L491.7 536.9Z" fill="#55595A" stroke="#FFF0E6" stroke-width="4.2" stroke-linejoin="round" paint-order="stroke"/>
<path d="M528.6 551.7 L538.4 552.9 L548.3 559.1 L555.7 565.2 L574.1 567.7 L577.8 573.8 L585.2 573.8 L587.7 588.6 L586.4 596 L572.9 600.9 L566.7 602.1 L555.7 594.7 L533.5 599.7 L527.4 592.3 L524.9 584.9 L520 580 L517.5 571.4 L520 564 L527.4 559.1Z" fill="#55595A" stroke="#FFF0E6" stroke-width="4.2" stroke-linejoin="round" paint-order="stroke"/>
<path d="M585.2 573.8 L612.3 566.4 L616 567.7 L618.4 575.1 L616 583.7 L613.5 588.6 L615.2 596 L617.7 597.2 L616.7 608.3 L617.2 620.6 L609.8 621.8 L601.2 619.4 L600 612 L591.4 598.4 L587.7 588.6Z" fill="#EE9A58" stroke="#FFF0E6" stroke-width="4.2" stroke-linejoin="round" paint-order="stroke"/>
<path d="M533.5 600.9 L555.7 594.7 L566.7 603.4 L572.9 600.9 L586.4 596 L591.4 598.4 L600 612 L601.2 619.4 L592.6 628 L577.8 636.6 L574.1 642.7 L570.4 637.8 L555.7 637.8 L552 630.4 L544.6 632.9 L538.4 618.1Z" fill="#E57373" stroke="#FFF0E6" stroke-width="4.2" stroke-linejoin="round" paint-order="stroke"/>
<path d="M577.8 636.6 L592.6 628 L601.2 620.6 L609.8 621.8 L608.6 630.4 L611 635.4 L617.2 637.8 L620.9 650.1 L619.7 656.3 L609.8 658.7 L604.9 663.7 L600 657.5 L587.7 656.3 L579 647.7Z" fill="#A5A5A5" stroke="#FFF0E6" stroke-width="4.2" stroke-linejoin="round" paint-order="stroke"/>
<path d="M349.5 296.9 L354.4 304.3 L356.9 310.5 L358.1 325.2 L350 332.6 L346.3 341.2 L347 352.3 L347.3 356 L341.6 357 L338.4 358.4 L337.2 370.7 L334.7 378.1 L332.3 379.4 L321.2 378.1 L317.5 374.4 L310.1 368.3 L304 365.8 L299 354.7 L317.5 344.9 L320 341.2 L321.2 331.4 L327.4 326.4 L334.7 315.4 L348.3 303.1Z" fill="#85C47A" stroke="#FFF0E6" stroke-width="4.2" stroke-linejoin="round" paint-order="stroke"/>
<path d="M265.8 357.2 L288 354.7 L299 354.7 L304 365.8 L310.1 368.3 L317.5 374.4 L321.2 378.1 L313.8 379.4 L307.7 388 L297.8 395.4 L304 401.5 L307.7 407.7 L317.5 415 L320 423.7 L317.5 427.4 L310.1 436 L300.3 437.2 L297.8 436 L294.1 432.3 L292.9 434.7 L278.1 432.3 L268.3 433.5 L249.8 432.3 L246.1 436 L243.7 432.3 L236.3 431 L235.1 423.7 L237.5 413.8 L243.7 405.2 L248.6 401.5 L244.9 392.9 L241.2 381.8 L243.7 374.4 L248.6 367.1 L258.4 359.7Z" fill="#85C47A" stroke="#FFF0E6" stroke-width="4.2" stroke-linejoin="round" paint-order="stroke"/>
<path d="M297.8 395.4 L307.7 388 L313.8 379.4 L322.4 376.9 L329.8 380.6 L331 384.3 L329.8 390.4 L336 396.6 L344.6 402.7 L354.4 407.7 L356.9 413.8 L364.3 417.5 L370.4 422.4 L369.2 428.6 L361.8 432.3 L356.9 437.2 L349.5 434.7 L342.1 429.8 L332.3 424.9 L323.7 426.1 L320 423.7 L317.5 415 L307.7 407.7 L304 401.5Z" fill="#EE9A58" stroke="#FFF0E6" stroke-width="4.2" stroke-linejoin="round" paint-order="stroke"/>
<path d="M275.5 503.7 L282.9 500 L290.3 504.9 L297.7 511.1 L310 514.7 L319.8 519.7 L323.5 528.3 L327.2 540.6 L319.8 544.3 L307.5 545.5 L301.4 550.4 L297.7 543.1 L294 539.4 L286.6 530.7 L284.1 520.9 L278 518.4 L275.5 511.1Z" fill="#E57373" stroke="#FFF0E6" stroke-width="4.2" stroke-linejoin="round" paint-order="stroke"/>
<path d="M219.9 437.1 L223.6 431.6 L228.5 434.1 L244.4 433.5 L245.6 437.1 L242.6 445.1 L235.8 453.1 L232.1 453.1 L231.5 446.3 L224.8 445.1 L221.1 440.2Z" fill="#EE9A58" stroke="#FFF0E6" stroke-width="4.2" stroke-linejoin="round" paint-order="stroke"/>
<path d="M247.4 432.2 L266.4 432.9 L269.5 437.1 L268.9 443.3 L259.1 444.5 L254.2 447.6 L245 446.3 L244.4 440.8 L245.6 437.1Z" fill="#EE9A58" stroke="#FFF0E6" stroke-width="4.2" stroke-linejoin="round" paint-order="stroke"/>
<path d="M267.7 431 L288.5 431 L289.7 434.7 L288.5 440.8 L292.1 450.6 L289.7 455.5 L275 456.7 L273.2 450.6 L270.1 443.3 L269.5 437.1Z" fill="#F1EA7C" stroke="#FFF0E6" stroke-width="4.2" stroke-linejoin="round" paint-order="stroke"/>
<path d="M288.5 431 L293.4 434.4 L299.5 436.9 L301.3 438.4 L303.2 443.3 L308.1 447.6 L314.2 453.7 L311.7 454.3 L300.7 461.6 L294.6 461.6 L289.7 455.5 L292.1 450.6 L288.5 440.8 L289.7 434.7Z" fill="#85C47A" stroke="#FFF0E6" stroke-width="4.2" stroke-linejoin="round" paint-order="stroke"/>
<path d="M301.3 438.4 L305.6 435.3 L316.6 438.4 L321.5 443.3 L325.2 449.4 L314.2 453.7 L308.1 447.6 L303.2 443.3Z" fill="#EE9A58" stroke="#FFF0E6" stroke-width="4.2" stroke-linejoin="round" paint-order="stroke"/>
<path d="M305.9 435.9 L310.8 435.3 L320.6 429.2 L331.6 427.3 L341.4 432.2 L350 438.4 L359.8 439.6 L362.2 439.6 L359.8 449.4 L347.6 454.9 L337.8 449.4 L326.7 449.4 L325.5 448.8 L323.1 444.5 L318.2 439.6Z" fill="#85C47A" stroke="#FFF0E6" stroke-width="4.2" stroke-linejoin="round" paint-order="stroke"/>
<path d="M300.4 465.3 L313.3 455.5 L321.8 453.1 L325.5 448.8 L326.7 449.4 L337.8 449.4 L347.6 454.9 L352.4 460.4 L348.8 462.9 L341.4 465.3 L331.6 467.8 L330.4 473.9 L326.7 478.8 L323.1 484.3 L312 485.5 L309.6 478.8 L307.1 471.4Z" fill="#F1EA7C" stroke="#FFF0E6" stroke-width="4.2" stroke-linejoin="round" paint-order="stroke"/>
<path d="M238.3 455.5 L243.2 450 L251.7 450 L254.8 454.9 L257.2 461.6 L251.7 470.2 L246.8 471.4 L244.4 465.3 L240.7 459.2Z" fill="#85C47A" stroke="#FFF0E6" stroke-width="4.2" stroke-linejoin="round" paint-order="stroke"/>
<path d="M267.7 480 L272.6 476.3 L281.1 477.6 L287.2 479.4 L287.9 483.7 L286 493.5 L283.6 498.4 L275 501.4 L270.1 497.1 L266.4 491 L266.4 483.7Z" fill="#85C47A" stroke="#FFF0E6" stroke-width="4.2" stroke-linejoin="round" paint-order="stroke"/>
<path d="M254.8 449.4 L259.1 446.3 L268.9 445.7 L272.6 450.6 L275 456.7 L270.1 465.3 L268.9 462.9 L261.5 466.5 L257.2 461.6 L254.8 454.9Z" fill="#E57373" stroke="#FFF0E6" stroke-width="4.2" stroke-linejoin="round" paint-order="stroke"/>
<path d="M270.1 465.3 L275 456.7 L289.7 455.5 L294.6 461.6 L299.5 469 L294.6 475.1 L290.9 477.6 L287.2 479.4 L281.1 477.6 L272.6 476.3 L271.3 472.7Z" fill="#E57373" stroke="#FFF0E6" stroke-width="4.2" stroke-linejoin="round" paint-order="stroke"/>
<path d="M224.8 461.6 L227.2 456.7 L233.4 455.5 L238.3 455.5 L240.7 459.2 L244.4 465.3 L246.8 471.4 L251.1 475.1 L245.6 481.2 L239.5 477.6 L230.9 473.9 L226.6 469Z" fill="#E57373" stroke="#FFF0E6" stroke-width="4.2" stroke-linejoin="round" paint-order="stroke"/>
<path d="M224.8 477.6 L227.2 473.9 L230.9 473.9 L239.5 477.6 L245.6 481.2 L245.6 484.9 L244.4 494.7 L238.3 504.5 L234.6 494.7 L229.7 486.1 L226 481.2Z" fill="#E57373" stroke="#FFF0E6" stroke-width="4.2" stroke-linejoin="round" paint-order="stroke"/>
<path d="M251.1 475.1 L246.8 471.4 L251.7 470.2 L257.2 461.6 L261.5 466.5 L268.9 462.9 L270.1 465.3 L271.3 472.7 L272.6 476.3 L267.7 480 L266.4 483.7 L265.2 488.6 L260.3 489.8 L255.4 483.7 L250.5 481.2Z" fill="#E57373" stroke="#FFF0E6" stroke-width="4.2" stroke-linejoin="round" paint-order="stroke"/>
<path d="M238.3 504.5 L244.4 494.7 L245.6 484.9 L245.6 481.2 L250.5 481.2 L255.4 483.7 L260.3 489.8 L265.2 488.6 L266.4 491 L270.1 497.1 L275 501.4 L275 504.5 L271.3 508.8 L262.8 507.6 L255.4 513.1 L245.6 511.8 L240.7 509.4Z" fill="#E57373" stroke="#FFF0E6" stroke-width="4.2" stroke-linejoin="round" paint-order="stroke"/>
<path d="M293.4 480 L294.6 475.1 L299.5 469 L300.7 465.3 L308.1 472.7 L310.5 480 L315.4 484.9 L321.5 484.9 L322.8 489.8 L320.3 494.7 L310.5 493.5 L303.2 492.2 L299.5 487.3Z" fill="#E57373" stroke="#FFF0E6" stroke-width="4.2" stroke-linejoin="round" paint-order="stroke"/>
<path d="M287.9 483.7 L290.9 477.6 L293.4 480 L299.5 487.3 L303.2 492.2 L310.5 493.5 L313 499.6 L314.8 507.6 L309.3 514.3 L300.7 511.8 L293.4 506.9 L284.8 499.6 L286 493.5Z" fill="#E57373" stroke="#FFF0E6" stroke-width="4.2" stroke-linejoin="round" paint-order="stroke"/>
<path d="M368.4 432.2 L374.5 429.2 L375.7 433.5 L370.8 444.5 L373.9 453.9 L377.3 450.2 L385.9 449.6 L394.4 450.2 L395.9 451.5 L401.2 459.4 L394.4 466.2 L393.8 472.7 L390.4 476.9 L380.6 473.3 L374.5 478.2 L369 481.8 L367.8 486.7 L361 493.5 L358.6 483.7 L357.3 473.9 L343.9 475.1 L340.8 473.9 L339.6 468.4 L341.4 465.3 L348.8 462.9 L352.4 460.4 L347.6 454.9 L359.8 449.4 L362.2 439.6Z" fill="#E57373" stroke="#FFF0E6" stroke-width="4.2" stroke-linejoin="round" paint-order="stroke"/>
<path d="M380.6 473.3 L390.4 476.9 L389.8 483.7 L386.7 491 L382.4 498.4 L375.7 504.5 L374.5 500.8 L364.7 501.4 L362.9 495.9 L363.5 491.6 L367.8 486.7 L369 481.8 L374.5 478.2Z" fill="#E57373" stroke="#FFF0E6" stroke-width="4.2" stroke-linejoin="round" paint-order="stroke"/>
<path d="M332.9 492.2 L336.5 488.6 L340.2 485.5 L343.9 484.9 L357.3 483.7 L361 493.5 L364.7 501.4 L374.5 500.8 L375.7 504.5 L368.4 513.1 L365.9 520 L354.9 520 L351.2 513.7 L342.7 510 L337.8 503.3 L332.2 499 L326.7 498.4 L323.7 494.1Z" fill="#E57373" stroke="#FFF0E6" stroke-width="4.2" stroke-linejoin="round" paint-order="stroke"/>
<path d="M321.3 512.7 L332.1 512 L342.7 512.7 L351.1 513.5 L354.3 518.4 L353 523.4 L344.4 532 L335.8 538.1 L329.7 540.6 L323.5 528.3 L319.8 519.7Z" fill="#55595A" stroke="#FFF0E6" stroke-width="4.2" stroke-linejoin="round" paint-order="stroke"/>
<path d="M331 468.4 L335.3 467.1 L339.6 468.4 L340.8 473.9 L343.9 475.1 L356.1 473.9 L357.3 483.7 L343.9 484.9 L341.4 485.5 L339 480 L336.5 476.9 L331 474.5Z" fill="#A5A5A5" stroke="#FFF0E6" stroke-width="4.2" stroke-linejoin="round" paint-order="stroke"/>
<path d="M326.7 478.8 L330.4 476.9 L336.5 476.9 L339 480 L340.2 485.5 L336.5 488.6 L332.9 492.2 L328 493.5 L324.3 490.4 L324.3 484.9Z" fill="#55595A" stroke="#FFF0E6" stroke-width="4.2" stroke-linejoin="round" paint-order="stroke"/>
<path d="M315.1 499.6 L320.6 494.7 L323.7 494.1 L326.7 498.4 L332.2 499 L337.8 503.3 L342.7 510 L339 513.1 L332.2 511.2 L321.2 511.2 L319.4 516.7 L315.1 518 L310.2 514.3 L313.9 510Z" fill="#55595A" stroke="#FFF0E6" stroke-width="4.2" stroke-linejoin="round" paint-order="stroke"/>
<path d="M332.1 541.8 L344.4 532 L353 523.4 L359.2 528.3 L362.9 540.6 L365.3 552.9 L369 562.7 L370.3 570.1 L381.3 573.8 L387.5 570.1 L393.6 572.6 L392.4 580 L399.8 589.8 L397.3 592.3 L388.7 589.8 L383.8 588.6 L380.1 580 L371.5 577.5 L366.6 573.8 L355.5 573.8 L349.3 566.4 L344.4 557.8 L340.7 548 L333.3 545.5Z" fill="#EE9A58" stroke="#FFF0E6" stroke-width="4.2" stroke-linejoin="round" paint-order="stroke"/>
<path d="M366.6 518.4 L374 513 L380.8 504.4 L389.2 508.6 L394.9 515.5 L403.5 522.1 L409.6 524.6 L408.4 529.5 L398.6 528.3 L392.4 532 L391.2 536.9 L405.9 540.6 L407.2 544.3 L397.3 550.4 L392.4 559 L388.7 566.4 L381.3 571.4 L370.3 570.1 L369 562.7 L365.3 552.9 L362.9 540.6 L360.4 528.3Z" fill="#EE9A58" stroke="#FFF0E6" stroke-width="4.2" stroke-linejoin="round" paint-order="stroke"/>
<path d="M158 489.8 L161.5 488 L169.5 491.5 L180.2 496.9 L181.9 497.7 L178.4 506.6 L176.6 512.8 L172.2 513.7 L166.9 506.6 L160.6 497.7Z" fill="#A5A5A5" stroke="#FFF0E6" stroke-width="4.2" stroke-linejoin="round" paint-order="stroke"/>
<path d="M181.9 497.7 L188.1 497.7 L193.5 500.4 L200.6 504 L202.3 508.4 L197.9 511.1 L195.2 518.1 L188.1 514.6 L177.5 512.8 L178.4 506.6Z" fill="#A5A5A5" stroke="#FFF0E6" stroke-width="4.2" stroke-linejoin="round" paint-order="stroke"/>
<path d="M200.6 504 L208.6 501.3 L218.3 499.5 L219.2 506.6 L217.4 515.5 L216.5 520.8 L210.3 523.5 L203.2 519.9 L195.2 518.1 L197.9 511.1 L202.3 508.4Z" fill="#A5A5A5" stroke="#FFF0E6" stroke-width="4.2" stroke-linejoin="round" paint-order="stroke"/>
<path d="M218.3 499.5 L224.5 495.1 L231.6 489.8 L233.4 497.7 L236.9 506.6 L240.5 512.8 L235.2 517.3 L229 524.4 L225.4 527.9 L220.1 522.6 L216.5 520.8 L217.4 515.5 L219.2 506.6Z" fill="#A5A5A5" stroke="#FFF0E6" stroke-width="4.2" stroke-linejoin="round" paint-order="stroke"/>
<path d="M245.8 536.8 L252 530.6 L255.6 522.6 L256.5 513.7 L263.6 509.3 L274.2 513.7 L281.3 522.6 L286.6 531.5 L290.2 536.8 L290 545.7 L281.3 554.5 L274.2 551.9 L265.3 552.8 L260 550.1 L257.4 553.6 L246.7 551 L243.2 543.9Z" fill="#E57373" stroke="#FFF0E6" stroke-width="4.2" stroke-linejoin="round" paint-order="stroke"/>
<path d="M211.2 525.2 L216.5 523.5 L220.1 524.4 L225.4 528.8 L229.8 524.4 L235.2 518.1 L240.5 513.7 L245.8 515.5 L253.8 516.4 L254.7 522.6 L252 529.7 L249.4 533.2 L243.2 537.7 L242.3 543.9 L244 551 L248.5 556.3 L249.4 560.7 L244 562.5 L240.5 565.2 L236.9 560.7 L233.4 555.4 L229.8 554.5 L224.5 556.3 L220.1 552.8 L218.3 546.5 L217.4 540.3 L214.8 534.1 L217.4 530.6 L214.8 527.9Z" fill="#55595A" stroke="#FFF0E6" stroke-width="4.2" stroke-linejoin="round" paint-order="stroke"/>
<path d="M183.7 539.4 L192.6 537.7 L202.3 535 L204.1 531.5 L207.7 532.3 L208.6 535.9 L214.8 537.7 L217.4 543.9 L218.3 551 L219.2 554.5 L214.8 559 L211.2 563.4 L210.3 570.5 L206.8 575.8 L201.5 574 L192.6 574 L189.9 568.7 L188.1 556.3 L185.5 547.4Z" fill="#EE9A58" stroke="#FFF0E6" stroke-width="4.2" stroke-linejoin="round" paint-order="stroke"/>
<path d="M194.4 551 L197.9 550.1 L202.3 554.5 L205 558.1 L203.2 560.7 L200.6 563.4 L197.9 567.8 L196.1 571.4 L193.5 570.5 L193.5 566.9 L197 562.5 L194.4 558.1 L193.5 553.6Z" fill="#A5A5A5" stroke="#FFF0E6" stroke-width="4.2" stroke-linejoin="round" paint-order="stroke"/>
<path d="M211.2 563.4 L214.8 559 L219.2 558.1 L226.3 560.7 L231.6 565.2 L236.1 571.4 L238.7 579.4 L241.4 588.2 L242.3 592.7 L236.9 596.2 L231.6 600.7 L226.3 600.7 L223.6 595.3 L218.3 590.9 L213 586.5 L211.2 582 L213 579.4 L210.3 576.7 L210.3 570.5Z" fill="#85C47A" stroke="#FFF0E6" stroke-width="4.2" stroke-linejoin="round" paint-order="stroke"/>
<path d="M196.1 576.7 L201.5 574.9 L206.8 576.7 L210.3 577.6 L212.1 580.3 L211.2 582.9 L212.1 586.5 L206.8 589.1 L202.3 586.5 L198.8 582Z" fill="#85C47A" stroke="#FFF0E6" stroke-width="4.2" stroke-linejoin="round" paint-order="stroke"/>
<path d="M224.5 557.2 L229.8 555.4 L233.4 556.3 L236.9 561.6 L240.5 566.1 L244.9 563.4 L250.3 561.6 L252.9 557.2 L256.5 554.5 L265.3 553.6 L266.2 567.8 L270.7 569.6 L268 575.8 L267.1 581.1 L261.8 582.9 L260 590.9 L256.5 595.3 L252 598.9 L246.7 593.6 L243.2 590.9 L241.4 585.6 L238.7 576.7 L236.1 569.6 L231.6 564.3 L227.2 560.7Z" fill="#A5A5A5" stroke="#FFF0E6" stroke-width="4.2" stroke-linejoin="round" paint-order="stroke"/>
<path d="M266.2 554.5 L276 554.5 L276.9 561.6 L276 567.8 L279.5 574 L281.3 581.1 L281.3 588.2 L277.8 590.9 L276 594.4 L263.6 593.6 L258.2 592.7 L260.9 588.2 L261.8 583.8 L267.1 582 L268.9 575.8 L271.5 569.6 L266.2 567.8Z" fill="#55595A" stroke="#FFF0E6" stroke-width="4.2" stroke-linejoin="round" paint-order="stroke"/>
<path d="M206.5 592 L211.5 588.7 L218.6 593.1 L224.7 595.9 L225.2 598.6 L223 600.3 L210.9 600.3 L208.7 596.4Z" fill="#A5A5A5" stroke="#FFF0E6" stroke-width="4.2" stroke-linejoin="round" paint-order="stroke"/>
<path d="M210.4 602.5 L221.9 601.9 L222.5 605.2 L220.8 609.1 L215.3 608.5 L211.5 606.3Z" fill="#E57373" stroke="#FFF0E6" stroke-width="4.2" stroke-linejoin="round" paint-order="stroke"/>
<path d="M223.6 603 L232.4 603 L234.6 605.2 L228.5 609.1 L221.4 612.4 L222.5 608Z" fill="#A5A5A5" stroke="#FFF0E6" stroke-width="4.2" stroke-linejoin="round" paint-order="stroke"/>
<path d="M223 614.1 L229.1 610.7 L235.2 606.9 L239 609.1 L237.4 613 L234.1 617.4 L224.1 618.5Z" fill="#A5A5A5" stroke="#FFF0E6" stroke-width="4.2" stroke-linejoin="round" paint-order="stroke"/>
<path d="M234.1 599.2 L242.9 593.7 L248.9 599.2 L245.1 603 L246.2 609.6 L245.6 615.2 L241.8 621.8 L239.6 627.3 L239.6 636.1 L239 643.2 L230.2 644.3 L229.1 638.3 L226.3 631.7 L224.1 626.2 L224.7 621.8 L233 619 L236.3 616.3 L238.5 613 L239.6 608.5 L236.3 605.2 L234.6 601.9Z" fill="#EE9A58" stroke="#FFF0E6" stroke-width="4.2" stroke-linejoin="round" paint-order="stroke"/>
<path d="M705.5 324.3 L710.4 340.3 L721.5 355 L714.1 369.8 L711.7 376 L700.6 385.8 L706.7 389.8 L709.2 412 L706 419.4 L710.4 424.3 L714.9 439.1 L712.9 450.1 L725.2 452.6 L728.9 451.9" fill="none" stroke="#FFF0E6" stroke-width="2" stroke-linejoin="round" stroke-linecap="round"/>
<path d="M933.8 267.4 L932.6 277.2 L920.3 287 L925.2 300.1 L926.4 300 L932.6 311.1 L926.4 320.9 L917.8 328.3 L919.1 334.5 L912.9 340.6 L914.1 351.7 L922.8 361.5 L924.5 370.1" fill="none" stroke="#FFF0E6" stroke-width="2" stroke-linejoin="round" stroke-linecap="round"/>
<path d="M815 504.3 L820 508 L831 516.6" fill="none" stroke="#FFF0E6" stroke-width="2" stroke-linejoin="round" stroke-linecap="round"/>
<path d="M674.7 604.3 L663.7 608 L653.8 625.2 L646.4 629.6 L634.1 628.9 L628 625.2" fill="none" stroke="#FFF0E6" stroke-width="2" stroke-linejoin="round" stroke-linecap="round"/>
<path d="M616.9 587.1 L630.5 587.1 L632.9 595.7 L639.1 608 L632.9 620.3 L624.3 627.7 L621.8 633.8 L612 636.3" fill="none" stroke="#FFF0E6" stroke-width="2" stroke-linejoin="round" stroke-linecap="round"/>
<path d="M591.6 487.4 L592.9 493.5 L599 499.7 L590.4 507.1 L591.6 518.1 L604 523.1 L611.3 530.4 L616.3 535.4 L611.3 542.7 L612.6 547.7 L618.7 550.1 L616.3 562.4 L617.5 567.4" fill="none" stroke="#FFF0E6" stroke-width="2" stroke-linejoin="round" stroke-linecap="round"/>
<path d="M590.4 507.1 L583 505.8 L576.9 509.5 L570.7 507.1 L557.2 507.1 L556 503.4 L544.9 504.6 L537.5 519.4 L531.4 523.1 L525.2 529.2" fill="none" stroke="#FFF0E6" stroke-width="2" stroke-linejoin="round" stroke-linecap="round"/>
<path d="M265.8 357.2 L268.3 370.7 L263.4 374.4 L264.6 380.6 L259.7 389.2 L254.7 394.1 L249.8 402.7" fill="none" stroke="#FFF0E6" stroke-width="2" stroke-linejoin="round" stroke-linecap="round"/>
<path d="M268.3 370.7 L275.7 373.2 L285.5 375.7 L288 380.6 L292.9 383.1 L296.6 390.4 L297.8 395.4" fill="none" stroke="#FFF0E6" stroke-width="2" stroke-linejoin="round" stroke-linecap="round"/>
<path d="M254.7 394.1 L263.4 394.1 L275.7 396.6 L283.1 394.1 L290.4 399 L297.8 401.5 L304 407.7" fill="none" stroke="#FFF0E6" stroke-width="2" stroke-linejoin="round" stroke-linecap="round"/>
<path d="M304 407.7 L297.8 415 L296.6 422.4 L294.1 432.3" fill="none" stroke="#FFF0E6" stroke-width="2" stroke-linejoin="round" stroke-linecap="round"/>
<path d="M248.6 403 L251.6 409.4 L255 413.8 L261.4 415.8 L266.3 417.3 L268.8 419.7" fill="none" stroke="#FFF0E6" stroke-width="2" stroke-linejoin="round" stroke-linecap="round"/>
<path d="M446.4 455.4 L452.6 461.5 L458.8 473.8 L457.5 486.1 L462.4 497.2 L466.1 505.8 L467.4 513.2" fill="none" stroke="#FFF0E6" stroke-width="2" stroke-linejoin="round" stroke-linecap="round"/>
<path d="M446.4 455.4 L440.3 464 L432.9 473.8 L425.5 478.8 L426.8 491.1 L419.4 498.4 L412 503.4 L403.4 507.1 L400.9 514.4 L400 516.7" fill="none" stroke="#FFF0E6" stroke-width="2" stroke-linejoin="round" stroke-linecap="round"/>
<path d="M398.5 445.5 L397.2 452.9 L400.9 459.1 L395.3 466" fill="none" stroke="#FFF0E6" stroke-width="2" stroke-linejoin="round" stroke-linecap="round"/>
<path d="M400 516.7 L412.9 522.9 L430 530.2 L436.1 528.4 L441 530.2 L444.7 533.9 L448.4 530.8 L452 531.4" fill="none" stroke="#FFF0E6" stroke-width="2" stroke-linejoin="round" stroke-linecap="round"/>
<path d="M430 530.2 L429.4 537.6 L422.7 549.8 L430.6 553.5 L428.8 558.4" fill="none" stroke="#FFF0E6" stroke-width="2" stroke-linejoin="round" stroke-linecap="round"/>
</g>
</svg>
<div class="lbl" style="left:230.4px;top:342.3px;">Санкт-Петербург</div><div class="dot" style="left:281.6px;top:360.8px;"></div>
<div class="lbl" style="left:256.6px;top:418px;">Москва</div><div class="dot" style="left:276.9px;top:436.1px;"></div>
<div class="lbl" style="left:576px;top:363px;">Норильск</div><div class="dot" style="left:603.3px;top:381.3px;"></div>
<div class="cap" style="top:688.7px;left:0.5px">Рисунок 3.1 — Субъекты РФ и число жителей в них (% от общей численности городского населения</div>
<div class="cap" style="top:721.2px;">субъекта РФ), испытывающих воздействие высокого и очень высокого загрязнения воздуха</div>
<div class="leg">
<i style="left:144.8px;background:#D4D4D4"></i><span style="left:165.2px;letter-spacing:0.6px">нет наблюдений,</span>
<i style="left:370.2px;background:#66F066"></i><span style="left:390px">0 %,</span>
<i style="left:449.8px;background:#FFF916"></i><span style="left:471px">1–24 %,</span>
<i style="left:570.5px;background:#F09650"></i><span style="left:590.5px">25–50 %,</span>
<i style="left:704.3px;background:#EE1C1C"></i><span style="left:731px">51–75 %,</span>
<i style="left:844.6px;background:#555555"></i><span style="left:865.5px">76–100 %</span>
</div>
</body></html>
